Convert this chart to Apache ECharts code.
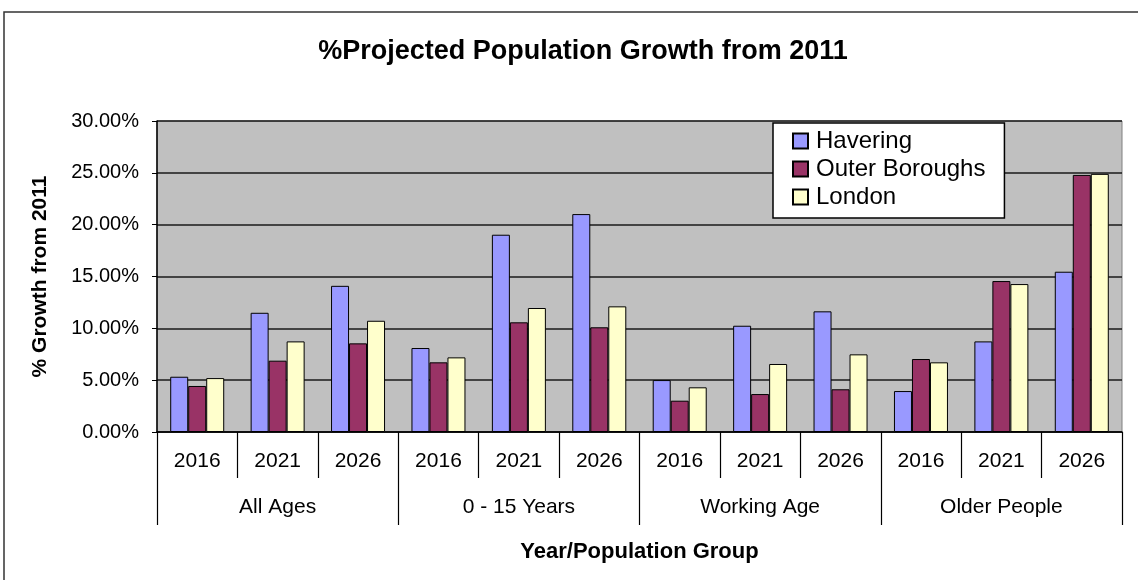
<!DOCTYPE html>
<html>
<head>
<meta charset="utf-8">
<script src="https://cdn.jsdelivr.net/npm/echarts@6/dist/echarts.min.js"></script>
<style>
html,body{margin:0;padding:0;background:#fff;}
#myChart{width:1138px;height:580px;}
</style>
</head>
<body>
<div id="myChart"></div>
<script>
// data
var years = ['2016','2021','2026','2016','2021','2026','2016','2021','2026','2016','2021','2026'];
var groups = ['All Ages','0 - 15 Years','Working Age','Older People'];
var havering = [5.33, 11.5, 14.1, 8.1, 19.03, 21.02, 5.01, 10.25, 11.64, 3.95, 8.74, 15.46];
var outerBoroughs = [4.44, 6.88, 8.55, 6.72, 10.58, 10.1, 3.02, 3.66, 4.12, 7.04, 14.56, 24.8];
var london = [5.2, 8.74, 10.73, 7.2, 11.96, 12.12, 4.31, 6.56, 7.49, 6.72, 14.27, 24.9];

var font = '"Liberation Sans", Arial, sans-serif';

function toFrac(arr){
  return arr.map(function(v){ return v / 100; });
}

var Toption = {
  animation: false,
  backgroundColor: '#fff',
  textStyle: { fontFamily: font, color: '#000' },
  title: {
    text: '%Projected Population Growth from 2011',
    left: 578,
    textAlign: 'center',
    top: 33,
    textStyle: { fontFamily: font, fontSize: 27, fontWeight: 'bold', color: '#000' }
  },
  graphic: [
    { type: 'rect', shape: { x: 4, y: 12, width: 1150, height: 600 },
      style: { fill: 'none', stroke: '#333', lineWidth: 1.5 }, silent: true }
  ],
  legend: {
    orient: 'vertical',
    left: 773,
    top: 123,
    padding: [6, 19, 9, 19],
    itemWidth: 15,
    itemHeight: 15,
    itemGap: 4,
    backgroundColor: '#fff',
    borderColor: '#000',
    borderWidth: 1.5,
    icon: 'rect',
    textStyle: { fontFamily: font, fontSize: 24, color: '#000', padding: [0, 0, 0, 3] },
    data: ['Havering', 'Outer Boroughs', 'London']
  },
  grid: {
    left: 157, right: 16, top: 121, bottom: 148,
    show: true,
    backgroundColor: '#C0C0C0',
    borderColor: '#808080',
    borderWidth: 1
  },
  xAxis: [
    {
      type: 'category',
      data: years,
      position: 'bottom',
      axisLine: { lineStyle: { color: '#000', width: 1.5 } },
      axisTick: { show: true, interval: 0, length: 46, lineStyle: { color: '#000', width: 1.2 } },
      axisLabel: { interval: 0, fontSize: 21, color: '#000', fontFamily: font, margin: 19 }
    },
    {
      type: 'category',
      data: groups,
      position: 'bottom',
      offset: 46,
      axisLine: { show: false },
      axisTick: { show: true, interval: 0, length: 47, lineStyle: { color: '#000', width: 1.2 } },
      axisLabel: { interval: 0, fontSize: 21, color: '#000', fontFamily: font, margin: 19 },
      name: 'Year/Population Group',
      nameLocation: 'middle',
      nameGap: 63,
      nameTextStyle: { fontFamily: font, fontSize: 22, fontWeight: 'bold', color: '#000' }
    }
  ],
  yAxis: [
    {
      type: 'value',
      min: 0,
      max: 0.3,
      interval: 0.05,
      name: '% Growth from 2011',
      nameLocation: 'middle',
      nameGap: 106,
      nameTextStyle: { fontFamily: font, fontSize: 21, fontWeight: 'bold', color: '#000' },
      axisLine: { show: true, lineStyle: { color: '#000', width: 1.5 } },
      axisTick: { show: true, length: 5, lineStyle: { color: '#000' } },
      axisLabel: {
        fontSize: 20, color: '#000', fontFamily: font, margin: 18,
        formatter: function(v){ return (v * 100).toFixed(2) + '%'; }
      },
      splitLine: { show: true, lineStyle: { color: '#1a1a1a', width: 1.5 } }
    }
  ],
  series: [
    {
      name: 'Havering', type: 'bar', xAxisIndex: 0, barWidth: 18, barGap: '0%',
      itemStyle: { color: '#9999FF', borderColor: '#000', borderWidth: 1 },
      data: toFrac(havering)
    },
    {
      name: 'Outer Boroughs', type: 'bar', xAxisIndex: 0, barWidth: 18, barGap: '0%',
      itemStyle: { color: '#993366', borderColor: '#000', borderWidth: 1 },
      data: toFrac(outerBoroughs)
    },
    {
      name: 'London', type: 'bar', xAxisIndex: 0, barWidth: 18, barGap: '0%',
      itemStyle: { color: '#FFFFCC', borderColor: '#000', borderWidth: 1 },
      data: toFrac(london)
    }
  ]
};

var myChart = echarts.init(document.getElementById('myChart'), null, { renderer: 'canvas' });
myChart.setOption(Toption);
</script>
</body>
</html>
